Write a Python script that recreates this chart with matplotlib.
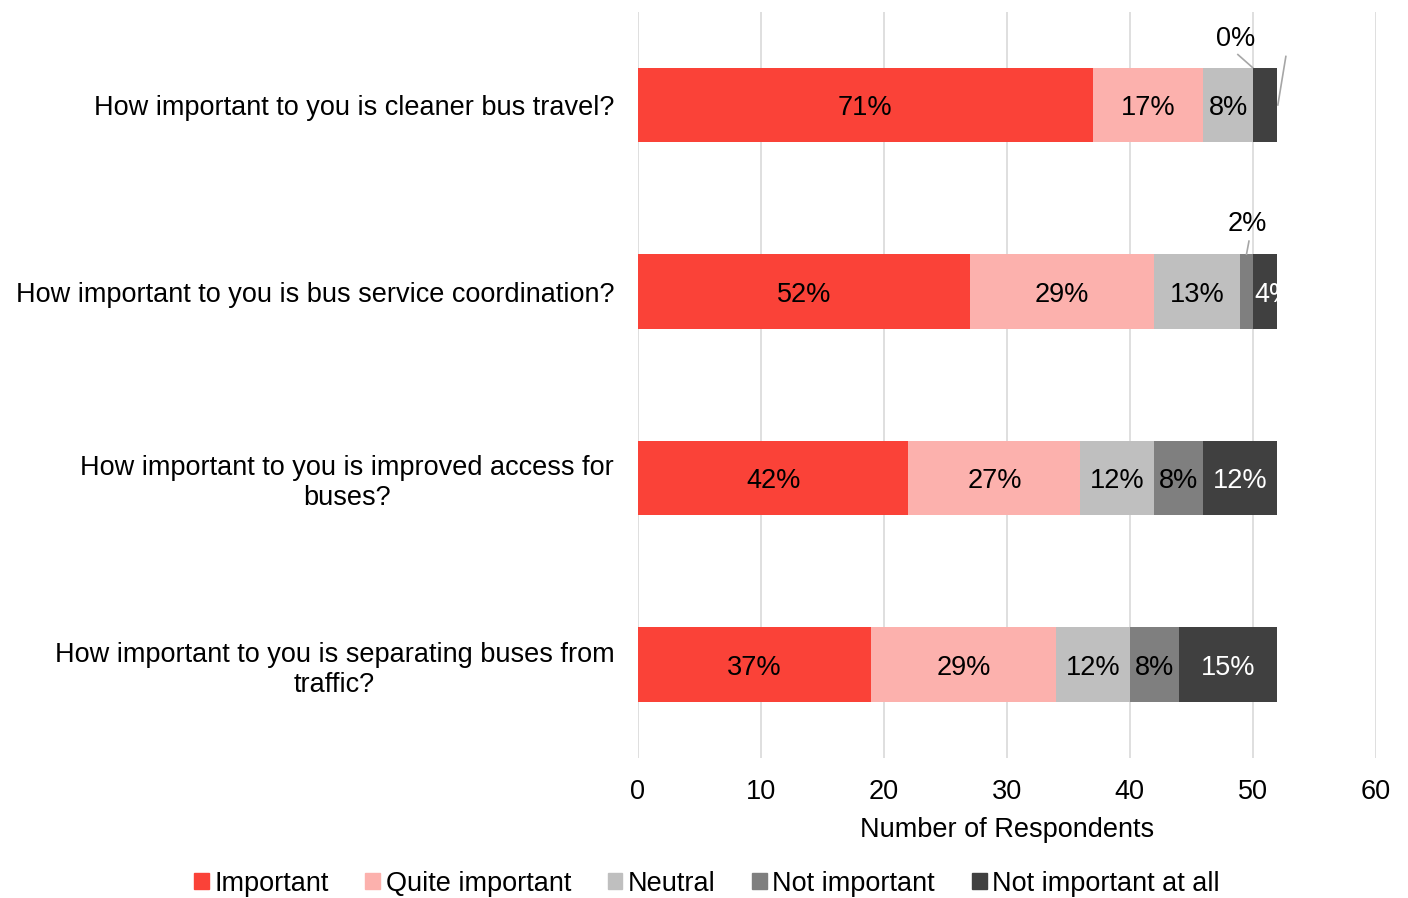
import matplotlib
matplotlib.use("Agg")
import matplotlib.pyplot as plt
import matplotlib.patches as mpatches

plt.rcParams["font.family"] = ["Liberation Sans", "DejaVu Sans"]

questions = [
    "How important to you is cleaner bus travel?",
    "How important to you is bus service coordination?",
    "How important to you is improved access for\nbuses?",
    "How important to you is separating buses from\ntraffic?",
]
categories = ["Important", "Quite important", "Neutral", "Not important", "Not important at all"]
colors = ["#FA4238", "#FCB1AD", "#BFBFBF", "#7F7F7F", "#404040"]
label_colors = ["black", "black", "black", "black", "white"]

important = [37, 27, 22, 19]
quite = [9, 15, 14, 15]
neutral = [4, 7, 6, 6]
not_imp = [0, 1, 4, 4]
not_at_all = [2, 2, 6, 8]
pct_labels = [
    ["71%", "17%", "8%", "0%", "4%"],
    ["52%", "29%", "13%", "2%", "4%"],
    ["42%", "27%", "12%", "8%", "12%"],
    ["37%", "29%", "12%", "8%", "15%"],
]

series = [important, quite, neutral, not_imp, not_at_all]

fig = plt.figure(figsize=(14.08, 8.98), dpi=100)
ax = fig.add_axes([0.453, 0.156, 0.524, 0.831])
fs = 19.5

left = [0] * len(questions)
for k, (vals, col) in enumerate(zip(series, colors)):
    bars = ax.barh(range(len(questions)), vals, left=left, height=0.4, color=col,
                   label=categories[k], zorder=3)
    for i, (b, v) in enumerate(zip(bars, vals)):
        lab = pct_labels[i][k]
        cx = left[i] + v / 2
        if (i, k) == (0, 3):
            # 0% label with leader lines (4% label hidden in the original)
            ax.text(48.6, -0.37, lab, ha="center", va="center_baseline", fontsize=fs)
            ax.plot([48.8, 50.0], [-0.27, -0.2], color="#A6A6A6", lw=1.2, zorder=4)
            ax.plot([52.7, 52.05], [-0.26, 0.0], color="#A6A6A6", lw=1.2, zorder=4)
        elif (i, k) == (0, 4):
            pass
        elif (i, k) == (1, 3):
            ax.text(49.6, 0.62, lab, ha="center", va="center_baseline", fontsize=fs)
            ax.plot([49.7, 49.5], [0.73, 0.8], color="#A6A6A6", lw=1.2, zorder=4)
        else:
            t = ax.text(cx, i, lab, ha="center", va="center_baseline", fontsize=fs,
                        color=label_colors[k], zorder=5)
            if (i, k) == (1, 4):
                t.set_clip_path(b)
                t.set_position((51.7, i))
    left = [l + v for l, v in zip(left, vals)]

ax.set_xlim(0, 60)
ax.set_ylim(3.5, -0.5)
ax.set_xticks(range(0, 61, 10))
ax.set_yticks(range(len(questions)))
ax.set_yticklabels(questions, fontsize=fs, ha="right", multialignment="center")
ax.tick_params(axis="x", labelsize=fs, length=0, pad=15)
ax.tick_params(axis="y", length=0, pad=17)
ax.grid(axis="x", color="#D9D9D9", lw=1.2, zorder=0)
for s in ax.spines.values():
    s.set_visible(False)
ax.set_xlabel("Number of Respondents", fontsize=fs, labelpad=9)

handles = [mpatches.Patch(color=c) for c in colors]
fig.legend(handles, categories, loc="center", bbox_to_anchor=(0.502, 0.016), ncol=5,
           frameon=False, fontsize=fs, handlelength=0.55, handleheight=0.55,
           handletextpad=0.2, columnspacing=1.35)

fig.savefig("out.png", dpi=100)
